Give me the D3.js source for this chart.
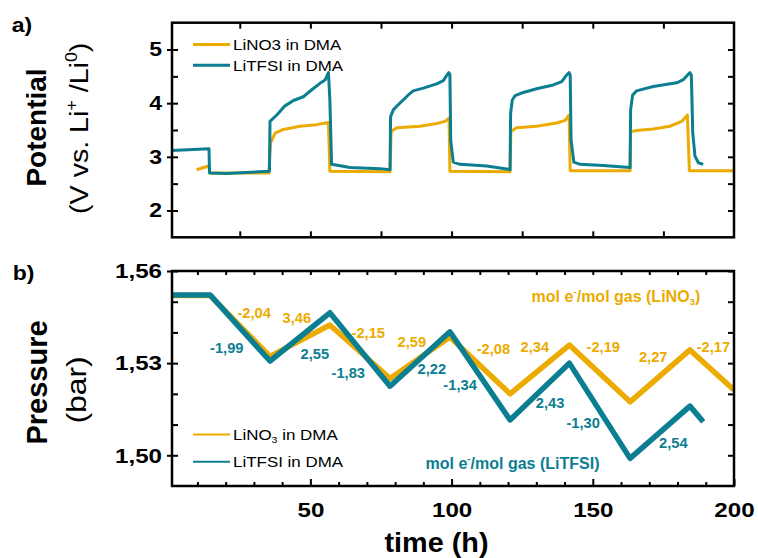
<!DOCTYPE html>
<html><head><meta charset="utf-8">
<script src="https://cdn.jsdelivr.net/npm/d3@7"></script>
<style>body{margin:0;background:#fff} svg{display:block} text{font-family:"Liberation Sans",Arial,sans-serif}</style>
</head><body><svg id="c" width="758" height="558"></svg>
<script>
// ---------------- DATA ----------------
// (a) potential vs time
const lino3PotTime = [9.7,13.9,14.5,35.3,35.9,37.5,40.4,46.3,52.2,56.4,56.9,78.2,78.6,80.6,88.8,94.7,97.7,99.1,99.4,120.7,121.0,123.0,130.1,137.2,140.2,141.6,142.0,163.2,163.4,165.5,171.4,177.3,181.5,183.5,184.2,200];
const lino3PotV    = [2.76,2.83,2.70,2.70,3.26,3.44,3.51,3.57,3.60,3.64,2.73,2.72,3.47,3.54,3.57,3.62,3.66,3.72,2.73,2.72,3.47,3.54,3.57,3.63,3.68,3.78,2.74,2.74,3.47,3.49,3.52,3.57,3.66,3.78,2.74,2.74];
const litfsiPotTime = [1.0,14.1,14.3,20.4,35.5,35.7,38.1,41.0,44.0,47.5,50.5,53.4,55.2,56.4,56.9,57.5,64.0,74.7,78.2,78.4,79.4,81.1,82.9,85.0,86.4,90.0,94.7,97.1,98.3,99.0,99.4,99.7,100.6,103.0,112.4,120.1,120.7,120.9,121.5,122.5,125.4,130.1,136.0,139.0,140.5,141.6,142.0,142.3,143.3,145.5,153.7,163.2,163.4,164.1,165.5,171.4,179.7,182.1,183.5,184.4,184.9,185.4,186.2,187.4,189.1];
const litfsiPotV    = [3.12,3.15,2.70,2.69,2.73,3.66,3.78,3.95,4.05,4.12,4.25,4.37,4.43,4.57,4.06,2.86,2.80,2.78,2.76,3.75,3.88,3.97,4.06,4.17,4.23,4.28,4.36,4.42,4.52,4.57,4.54,3.30,2.90,2.86,2.83,2.77,2.76,3.81,4.06,4.14,4.20,4.27,4.34,4.40,4.51,4.57,4.52,3.32,2.90,2.86,2.84,2.80,3.88,4.15,4.23,4.31,4.38,4.44,4.52,4.57,4.52,3.44,3.01,2.89,2.86];
// (b) pressure vs time
const lino3PresTime = [1,14.5,35.7,56.9,78.2,99.4,120.7,141.7,163.2,184.4,200];
const lino3PresP    = [1.5520,1.5520,1.5322,1.5424,1.5250,1.5385,1.5200,1.5359,1.5174,1.5343,1.5213];
const litfsiPresTime = [1,14.5,35.7,56.9,78.2,99.4,120.7,141.7,163.2,184.4,189.1];
const litfsiPresP    = [1.5522,1.5522,1.5307,1.5464,1.5225,1.5402,1.5115,1.5300,1.4990,1.5160,1.5109];
// mol e-/mol gas ratios
const lino3Ratios  = ["-2,04","3,46","-2,15","2,59","-2,08","2,34","-2,19","2,27","-2,17"];
const litfsiRatios = ["-1,99","2,55","-1,83","2,22","-1,34","2,43","-1,30","2,54"];
// tick labels
const potTicks = [2,3,4,5];
const presTicks = [1.50,1.53,1.56];
const timeTicks = [50,100,150,200];

// ---------------- LAYOUT ----------------
const lino3RatioAt  = [[30.1,1.5462],[45.2,1.5448],[70.5,1.5397],[85.9,1.5368],[114.8,1.5345],[129.5,1.5352],[153.7,1.5352],[171.4,1.5319],[192.7,1.5354]];
const litfsiRatioAt = [[20.4,1.5348],[51.6,1.5330],[63.4,1.5269],[93.0,1.5280],[103.0,1.5229],[134.9,1.5171],[146.6,1.5106],[178.5,1.5041]];
const ORANGE = "#EBAB00", TEAL = "#0B7E91";
const L = 172, R = 734, T1 = 22.7, B1 = 237.3, T2 = 271, B2 = 486;
const svg = d3.select("#c");
const x = d3.scaleLinear().domain([1,200]).range([L,R]);
const yTop = d3.scaleLinear().domain([1.5,5.5]).range([B1,T1]);
const yBot = d3.scaleLinear().domain([1.49,1.56]).range([B2,T2]);
const SX = 1.15;

function stxt(parent, px, py, rot, sx, opts) {
  const g = parent.append("g").attr("transform", `translate(${px},${py}) rotate(${rot}) scale(${sx},1)`);
  const t = g.append("text").attr("text-anchor", opts.anchor || "start")
    .attr("font-size", opts.size).attr("font-weight", opts.bold ? "bold" : "normal")
    .attr("fill", opts.fill || "#000");
  let pending = 0;
  opts.parts.forEach(p => {
    if (typeof p === "string") {
      const ts = t.append("tspan").text(p);
      if (pending) { ts.attr("dy", pending); pending = 0; }
    } else {
      const off = p.sup ? -0.42*opts.size : 0.22*opts.size;
      t.append("tspan").text(p.t).attr("font-size", opts.size*0.62).attr("dy", off + pending);
      pending = -off;
    }
  });
  return g;
}

// clip paths
const defs = svg.append("defs");
defs.append("clipPath").attr("id","c1").append("rect").attr("x",L).attr("y",T1).attr("width",R-L).attr("height",B1-T1);
defs.append("clipPath").attr("id","c2").append("rect").attr("x",L).attr("y",T2).attr("width",R-L).attr("height",B2-T2);

// ---------------- PANEL A ----------------
const lineA = d3.line().x(d=>x(d[0])).y(d=>yTop(d[1]));
const gA = svg.append("g").attr("clip-path","url(#c1)");
gA.append("path").datum(d3.zip(lino3PotTime, lino3PotV)).attr("d", lineA)
  .attr("fill","none").attr("stroke",ORANGE).attr("stroke-width",3).attr("stroke-linejoin","round");
gA.append("path").datum(d3.zip(litfsiPotTime, litfsiPotV)).attr("d", lineA)
  .attr("fill","none").attr("stroke",TEAL).attr("stroke-width",3).attr("stroke-linejoin","round");

// ---------------- PANEL B ----------------
const lineB = d3.line().x(d=>x(d[0])).y(d=>yBot(d[1]));
const gB = svg.append("g").attr("clip-path","url(#c2)");
gB.append("path").datum(d3.zip(lino3PresTime, lino3PresP)).attr("d", lineB)
  .attr("fill","none").attr("stroke",ORANGE).attr("stroke-width",5.5).attr("stroke-linejoin","round");
gB.append("path").datum(d3.zip(litfsiPresTime, litfsiPresP)).attr("d", lineB)
  .attr("fill","none").attr("stroke",TEAL).attr("stroke-width",5.5).attr("stroke-linejoin","round");

// ---------------- AXES ----------------
function styleAxis(g) {
  g.attr("font-size", null).attr("font-family", null);
  g.select(".domain").remove();
  g.selectAll(".tick line").attr("stroke","#000").attr("stroke-width",2);
  return g;
}
function noLab(axis) { return axis.tickFormat(""); }
const potMinor = d3.range(2, 5.01, 0.5);
const presMinor = d3.range(0,7).map(i => 1.50 + i*0.01);
const timeQuarter = [25,50,75,100,125,150,175];
const timeTen = d3.range(10, 200, 10);

// panel A axes
const aL = styleAxis(svg.append("g").attr("transform",`translate(${L},0)`)
  .call(d3.axisLeft(yTop).tickValues(potTicks).tickSize(5).tickFormat(d3.format("d"))));
aL.selectAll("text").attr("x", -10/SX).attr("transform",`scale(${SX},1)`)
  .attr("font-size",20).attr("font-weight","bold").attr("fill","#000");
styleAxis(svg.append("g").attr("transform",`translate(${L},0)`).call(noLab(d3.axisRight(yTop).tickValues(potMinor).tickSize(6))));
styleAxis(svg.append("g").attr("transform",`translate(${R},0)`).call(noLab(d3.axisLeft(yTop).tickValues(potMinor).tickSize(6))));
styleAxis(svg.append("g").attr("transform",`translate(0,${B1})`).call(noLab(d3.axisTop(x).tickValues(timeQuarter).tickSize(6))));
styleAxis(svg.append("g").attr("transform",`translate(0,${T1})`).call(noLab(d3.axisBottom(x).tickValues(timeQuarter).tickSize(6))));
svg.append("rect").attr("x",L).attr("y",T1).attr("width",R-L).attr("height",B1-T1)
  .attr("fill","none").attr("stroke","#000").attr("stroke-width",2.5);

// panel B axes
const commaFmt = d => d3.format(".2f")(d).replace(".", ",");
const bL = styleAxis(svg.append("g").attr("transform",`translate(${L},0)`)
  .call(d3.axisLeft(yBot).tickValues(presTicks).tickSize(5).tickFormat(commaFmt)));
bL.selectAll("text").attr("x", -10/SX).attr("transform",`scale(${SX},1)`)
  .attr("font-size",21).attr("font-weight","bold").attr("fill","#000");
styleAxis(svg.append("g").attr("transform",`translate(${L},0)`).call(noLab(d3.axisRight(yBot).tickValues(presMinor).tickSize(6))));
styleAxis(svg.append("g").attr("transform",`translate(${R},0)`).call(noLab(d3.axisLeft(yBot).tickValues(presMinor).tickSize(6))));
styleAxis(svg.append("g").attr("transform",`translate(0,${T2})`).call(noLab(d3.axisBottom(x).tickValues(timeTen).tickSize(4))));
styleAxis(svg.append("g").attr("transform",`translate(0,${B2})`).call(noLab(d3.axisTop(x).tickValues(timeTen.filter(t=>t%50)).tickSize(4))));
styleAxis(svg.append("g").attr("transform",`translate(0,${B2})`).call(noLab(d3.axisTop(x).tickValues(timeTicks).tickSize(7))));
const bB = styleAxis(svg.append("g").attr("transform",`translate(0,${B2})`)
  .call(d3.axisBottom(x).tickValues(timeTicks).tickSize(0).tickFormat(d3.format("d"))));
bB.selectAll("text").attr("y", 31).attr("dy", null).attr("transform",`scale(${SX},1)`)
  .attr("font-size",21).attr("font-weight","bold").attr("fill","#000");
svg.append("rect").attr("x",L).attr("y",T2).attr("width",R-L).attr("height",B2-T2)
  .attr("fill","none").attr("stroke","#000").attr("stroke-width",2.5);

// ---------------- TEXT ----------------
stxt(svg, 11.7, 31.5, 0, SX, {size:20, bold:true, parts:["a)"]});
stxt(svg, 12.7, 280, 0, SX, {size:20, bold:true, parts:["b)"]});
stxt(svg, 45.5, 127.5, -90, 1, {size:28, bold:true, anchor:"middle", parts:["Potential"]});
stxt(svg, 88, 128.3, -90, 1.1, {size:26, anchor:"middle", parts:["(V vs. Li",{t:"+",sup:true}," /Li",{t:"0",sup:true},")"]});
stxt(svg, 46.7, 382.5, -90, 1, {size:29, bold:true, anchor:"middle", parts:["Pressure"]});
stxt(svg, 85.5, 390, -90, 1.18, {size:27, anchor:"middle", parts:["(bar)"]});
stxt(svg, 436.5, 551.5, 0, 1.03, {size:28, bold:true, anchor:"middle", parts:["time (h)"]});

// legends
function legend(y0, color, lw, parts) {
  svg.append("line").attr("x1",193).attr("x2",230).attr("y1",y0).attr("y2",y0)
    .attr("stroke",color).attr("stroke-width",lw);
  stxt(svg, 233, y0+5.6, 0, 1.13, {size:15, parts});
}
legend(44.5, ORANGE, 3, ["LiNO3 in DMA"]);
legend(65.2, TEAL, 3, ["LiTFSI in DMA"]);
legend(434.5, ORANGE, 2, ["LiNO",{t:"3",sup:false}," in DMA"]);
legend(461.7, TEAL, 2, ["LiTFSI in DMA"]);

// ratio annotations
lino3Ratios.forEach((s,i) => stxt(svg, x(lino3RatioAt[i][0]), yBot(lino3RatioAt[i][1])+5, 0, 1.05,
  {size:14, bold:true, anchor:"middle", fill:ORANGE, parts:[s]}));
litfsiRatios.forEach((s,i) => stxt(svg, x(litfsiRatioAt[i][0]), yBot(litfsiRatioAt[i][1])+5, 0, 1.05,
  {size:14, bold:true, anchor:"middle", fill:TEAL, parts:[s]}));
stxt(svg, 616, 301.5, 0, 1, {size:16, bold:true, anchor:"middle", fill:ORANGE,
  parts:["mol e",{t:"-",sup:true},"/mol gas (LiNO",{t:"3",sup:false},")"]});
stxt(svg, 512.5, 469, 0, 1, {size:16, bold:true, anchor:"middle", fill:TEAL,
  parts:["mol e",{t:"-",sup:true},"/mol gas (LiTFSI)"]});
</script></body></html>
